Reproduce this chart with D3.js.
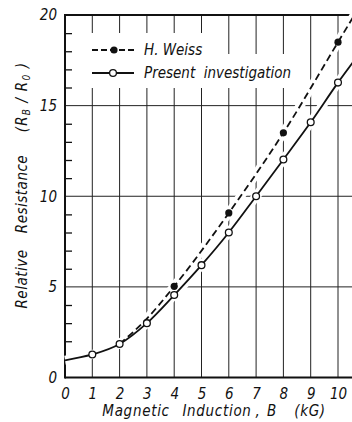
<!DOCTYPE html>
<html>
<head>
<meta charset="utf-8">
<script src="https://cdn.jsdelivr.net/npm/d3@7"></script>
<style>
  body { margin: 0; background: #fff; }
  text { font-family: "DejaVu Sans Condensed", "DejaVu Sans", sans-serif; font-style: italic; fill: #111; }
</style>
</head>
<body>
<div id="chart"></div>
<script>
var svgWidth = 352;
var svgHeight = 422;

var margin = { top: 15, left: 65 };
var width = 273;    // B = 0 .. 10
var height = 362.5; // R = 0 .. 20

// values
var inductionB = [1, 2, 3, 4, 5, 6, 7, 8, 9, 10];
var presentR = [1.27, 1.85, 3.0, 4.55, 6.2, 8.0, 10.0, 12.03, 14.08, 16.27];
var weissB = [4, 6, 8, 10];
var weissR = [5.03, 9.08, 13.5, 18.5];

// the drawn curves (they run past the last points)
var presentCurveB = [0, 1, 2, 3, 4, 5, 6, 7, 8, 9, 10, 10.6];
var presentCurveR = [0.95, 1.27, 1.85, 3.0, 4.55, 6.2, 8.0, 10.0, 12.03, 14.08, 16.27, 17.5];
var weissCurveB = [2, 3, 4, 6, 8, 10, 10.6];
var weissCurveR = [1.85, 3.25, 5.03, 9.08, 13.5, 18.5, 20.0];

var xTicks = [0, 1, 2, 3, 4, 5, 6, 7, 8, 9, 10];
var yTicks = [0, 5, 10, 15, 20];
var yMinor = [1, 2, 3, 4, 6, 7, 8, 9, 11, 12, 13, 14, 16, 17, 18, 19];

var svg = d3.select("#chart")
  .append("svg")
  .attr("width", svgWidth)
  .attr("height", svgHeight);

var x = d3.scaleLinear().domain([0, 10]).range([margin.left, margin.left + width]);
var y = d3.scaleLinear().domain([0, 20]).range([margin.top + height, margin.top]);
var xEnd = x(10.6);

// grid
var grid = svg.append("g").attr("stroke", "#222").attr("stroke-width", 1);
grid.selectAll(".vg")
  .data(inductionB)
  .enter()
  .append("line")
  .attr("x1", d => x(d)).attr("x2", d => x(d))
  .attr("y1", y(0)).attr("y2", y(20));
grid.selectAll(".hg")
  .data([5, 10, 15])
  .enter()
  .append("line")
  .attr("x1", x(0)).attr("x2", xEnd)
  .attr("y1", d => y(d)).attr("y2", d => y(d));

// minor ticks on the left axis
svg.append("g")
  .attr("transform", `translate(${x(0)}, 0)`)
  .call(d3.axisRight(y).tickValues(yMinor).tickSize(7).tickFormat(""))
  .call(g => g.select(".domain").remove())
  .call(g => g.selectAll("line").attr("stroke", "#111").attr("stroke-width", 1.3));

// white patches behind the legend
svg.append("rect").attr("x", 80).attr("y", 33).attr("width", 134).attr("height", 55).attr("fill", "#fff");
svg.append("rect").attr("x", 214).attr("y", 54).attr("width", 86).attr("height", 34).attr("fill", "#fff");

// frame
var frame = svg.append("g").attr("stroke", "#111").attr("stroke-width", 2).attr("fill", "none");
frame.append("line").attr("x1", x(0)).attr("x2", xEnd).attr("y1", y(20)).attr("y2", y(20));
frame.append("line").attr("x1", x(0)).attr("x2", xEnd).attr("y1", y(0)).attr("y2", y(0));
frame.append("line").attr("x1", x(0)).attr("x2", x(0)).attr("y1", y(0) + 1).attr("y2", y(20) - 1);

// curves
var line = d3.line()
  .x(d => x(d[0]))
  .y(d => y(d[1]))
  .curve(d3.curveMonotoneX);

var presentCurve = d3.zip(presentCurveB, presentCurveR);
var weissCurve = d3.zip(weissCurveB, weissCurveR);

[presentCurve, weissCurve].forEach(function(c) {
  svg.append("path").attr("d", line(c))
    .attr("fill", "none").attr("stroke", "#fff").attr("stroke-width", 9);
});

svg.append("path").attr("d", line(weissCurve))
  .attr("fill", "none").attr("stroke", "#111").attr("stroke-width", 1.8)
  .attr("stroke-dasharray", "7,4");
svg.append("path").attr("d", line(presentCurve))
  .attr("fill", "none").attr("stroke", "#111").attr("stroke-width", 1.8);

// points
svg.selectAll(".wpt")
  .data(d3.zip(weissB, weissR))
  .enter()
  .append("circle")
  .attr("cx", d => x(d[0])).attr("cy", d => y(d[1]))
  .attr("r", 3.6).attr("fill", "#111");

svg.selectAll(".ppt")
  .data(d3.zip(inductionB, presentR))
  .enter()
  .append("circle")
  .attr("cx", d => x(d[0])).attr("cy", d => y(d[1]))
  .attr("r", 3.4).attr("fill", "#fff")
  .attr("stroke", "#111").attr("stroke-width", 1.3);

// tick labels
svg.append("g")
  .attr("transform", `translate(0, ${y(0)})`)
  .call(d3.axisBottom(x).tickValues(xTicks).tickSize(0).tickPadding(11).tickFormat(d3.format("d")))
  .call(g => g.select(".domain").remove())
  .call(g => g.selectAll("text").attr("font-size", 15).attr("font-family", null));

svg.append("g")
  .attr("transform", `translate(${x(0)}, 0)`)
  .call(d3.axisLeft(y).tickValues(yTicks).tickSize(0).tickPadding(8).tickFormat(d3.format("d")))
  .call(g => g.select(".domain").remove())
  .call(g => g.selectAll("text").attr("font-size", 15).attr("font-family", null));

// legend
var legend = svg.append("g");
legend.append("line").attr("x1", 92).attr("x2", 134).attr("y1", 50).attr("y2", 50)
  .attr("stroke", "#111").attr("stroke-width", 1.8).attr("stroke-dasharray", "6,3");
legend.append("circle").attr("cx", 114).attr("cy", 50).attr("r", 3.6).attr("fill", "#111");
legend.append("text").attr("x", 144).attr("y", 55).attr("font-size", 15).text("H. Weiss");

legend.append("line").attr("x1", 92).attr("x2", 134).attr("y1", 73).attr("y2", 73)
  .attr("stroke", "#111").attr("stroke-width", 1.8);
legend.append("circle").attr("cx", 113).attr("cy", 73).attr("r", 3.4)
  .attr("fill", "#fff").attr("stroke", "#111").attr("stroke-width", 1.3);
legend.append("text").attr("x", 144).attr("y", 78).attr("font-size", 15)
  .attr("xml:space", "preserve").text("Present  investigation");

// axis titles
var xTitle = [["Magnetic", 136], ["Induction", 217], [",", 258], ["B", 272], ["(kG)", 310]];
svg.selectAll(".xt")
  .data(xTitle)
  .enter()
  .append("text")
  .attr("x", d => d[1]).attr("y", 416)
  .attr("text-anchor", "middle")
  .attr("font-size", 15)
  .attr("letter-spacing", 0.7)
  .text(d => d[0]);

var yTitle = [["Relative", 279], ["Resistance", 194]];
svg.selectAll(".yt")
  .data(yTitle)
  .enter()
  .append("text")
  .attr("transform", d => `translate(27, ${d[1]}) rotate(-90)`)
  .attr("text-anchor", "middle")
  .attr("font-size", 15)
  .attr("letter-spacing", 0.5)
  .text(d => d[0]);

var ratio = svg.append("text")
  .attr("transform", "translate(27, 97) rotate(-90)")
  .attr("text-anchor", "middle")
  .attr("font-size", 15)
  .attr("letter-spacing", 1.2)
  .attr("xml:space", "preserve");
ratio.append("tspan").text("(R");
ratio.append("tspan").attr("font-size", 10).attr("dy", 3).text("B");
ratio.append("tspan").attr("dy", -3).text(" / R");
ratio.append("tspan").attr("font-size", 10).attr("dy", 3).text("0");
ratio.append("tspan").attr("dy", -3).text(" )");
</script>
</body>
</html>
